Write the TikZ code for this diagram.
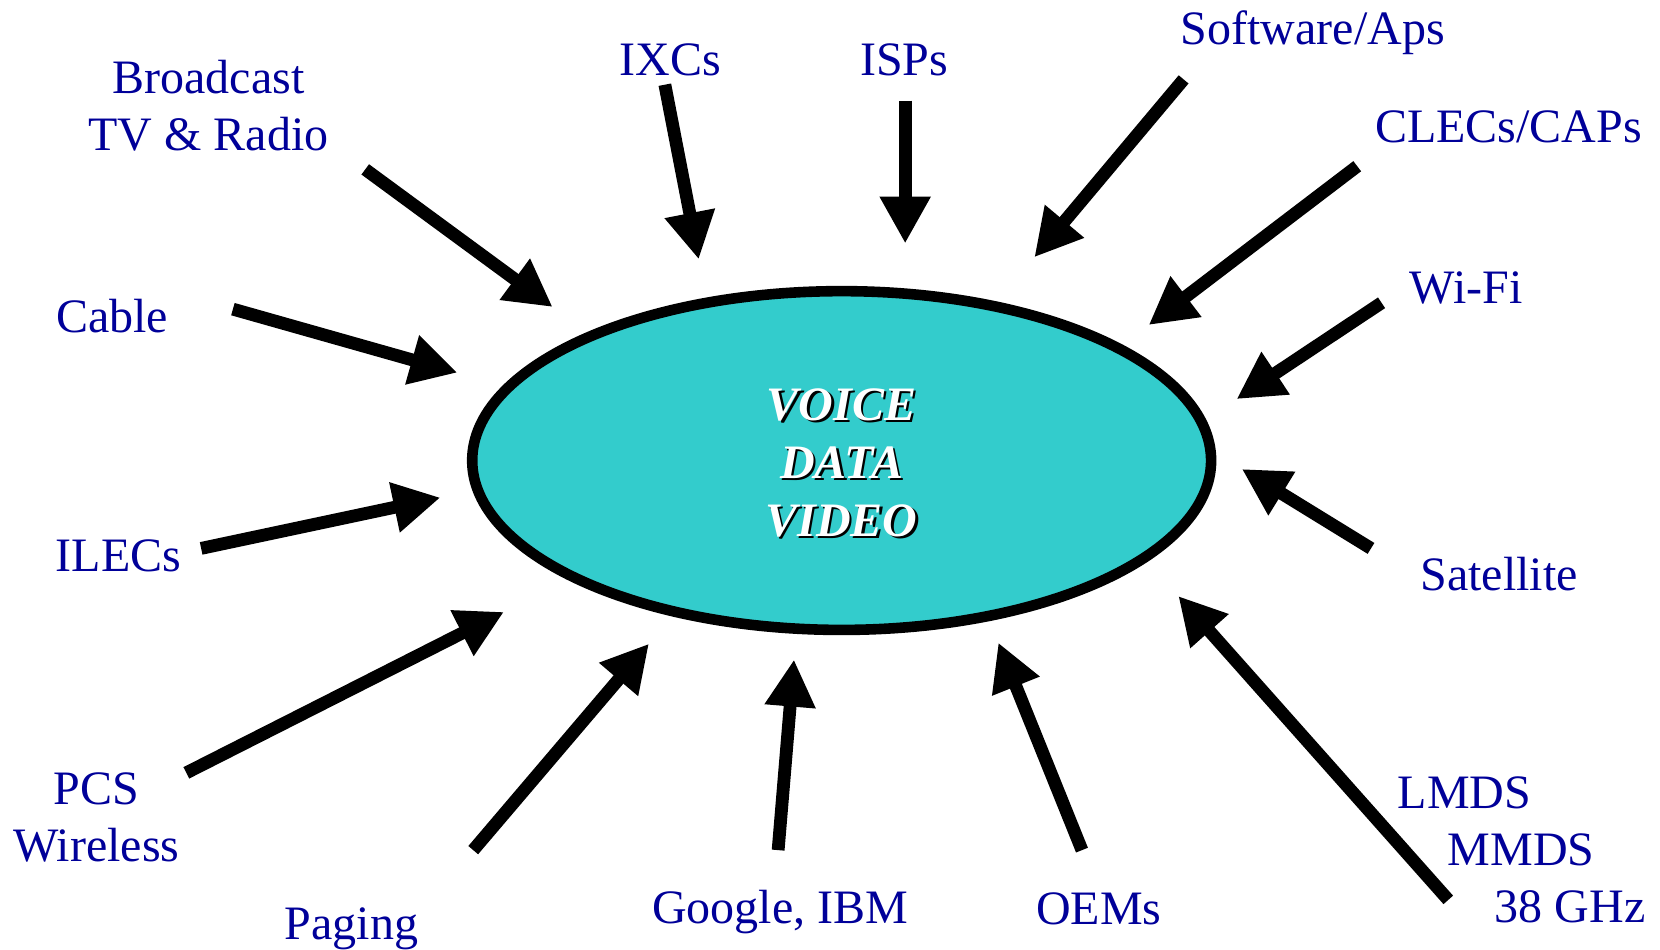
\documentclass[tikz,border=0pt]{standalone}
\usepackage{fontspec}
\setmainfont{Liberation Serif}
\usetikzlibrary{arrows.meta,shapes.geometric}
\definecolor{labelblue}{HTML}{000099}
\definecolor{hubcyan}{HTML}{33CCCC}

\begin{document}
\begin{tikzpicture}[
    x=0.5294pt, y=-0.5294pt,
    src/.style={font=\fontsize{24}{28.5}\selectfont, text=labelblue,
                inner sep=0pt, align=center},
    feed/.style={-{Triangle[length=23.5pt,width=24pt]}, line width=6.4pt},
    core/.style={font=\fontsize{24}{29}\selectfont\bfseries\itshape,
                 inner sep=0pt, align=center}
  ]
  \useasboundingbox (0,0) rectangle (1568,897);

  % the hub
  \node[ellipse, draw, line width=5.3pt, fill=hubcyan,
        minimum width=369.5pt, minimum height=169.4pt] (hub) at (795,435) {};
  \node[core, text=black, xshift=1.1pt, yshift=-1.1pt] (mixshade) at (795,437)
    {VOICE\\DATA\\VIDEO};
  \node[core, text=white] (mix) at (795,437) {VOICE\\DATA\\VIDEO};

  % the players round it
  \node[src] (broadcast) at (197,100) {Broadcast\\TV \& Radio};
  \node[src] (ixcs)      at (633,57)  {IXCs};
  \node[src] (isps)      at (854,57)  {ISPs};
  \node[src] (software)  at (1240,31) {Software/Aps};
  \node[src] (clecs)     at (1425,120) {CLECs/CAPs};
  \node[src] (wifi)      at (1385,272) {Wi-Fi};
  \node[src] (cable)     at (106,299) {Cable};
  \node[src] (satellite) at (1416,542) {Satellite};
  \node[src] (ilecs)     at (112,525) {ILECs};
  \node[src] (pcs)       at (91,772)  {PCS\\Wireless};
  \node[src] (paging)    at (332,877) {Paging};
  \node[src] (google)    at (737,861) {Google, IBM};
  \node[src] (oems)      at (1038,858) {OEMs};
  \node[src, align=left, anchor=west] (lmds) at (1320,803)
    {LMDS\\\hspace{25pt}MMDS\\\hspace{48.5pt}38 GHz};

  % arrows into the hub: name / tail / tip
  \foreach \n/\tx/\ty/\hx/\hy in {
      broadcast/345/160/522/290, cable/220/292/432/352,
      ixcs/628/80/660/245,       isps/855/95/855/230,
      software/1118/75/977/243,  clecs/1282/157/1085/307,
      wifi/1305/286/1168/377,    satellite/1295/518/1173/443,
      ilecs/190/518/416/470,     pcs/176/730/476/578,
      paging/447/803/613/608,    google/735/803/750/623,
      oems/1022/803/943/607,     lmds/1368/850/1113/563}{
    \coordinate (\n-t) at (\tx,\ty);
    \coordinate (\n-h) at (\hx,\hy);
    \draw[feed] (\n-t) -- (\n-h);
  }
\end{tikzpicture}
\end{document}
